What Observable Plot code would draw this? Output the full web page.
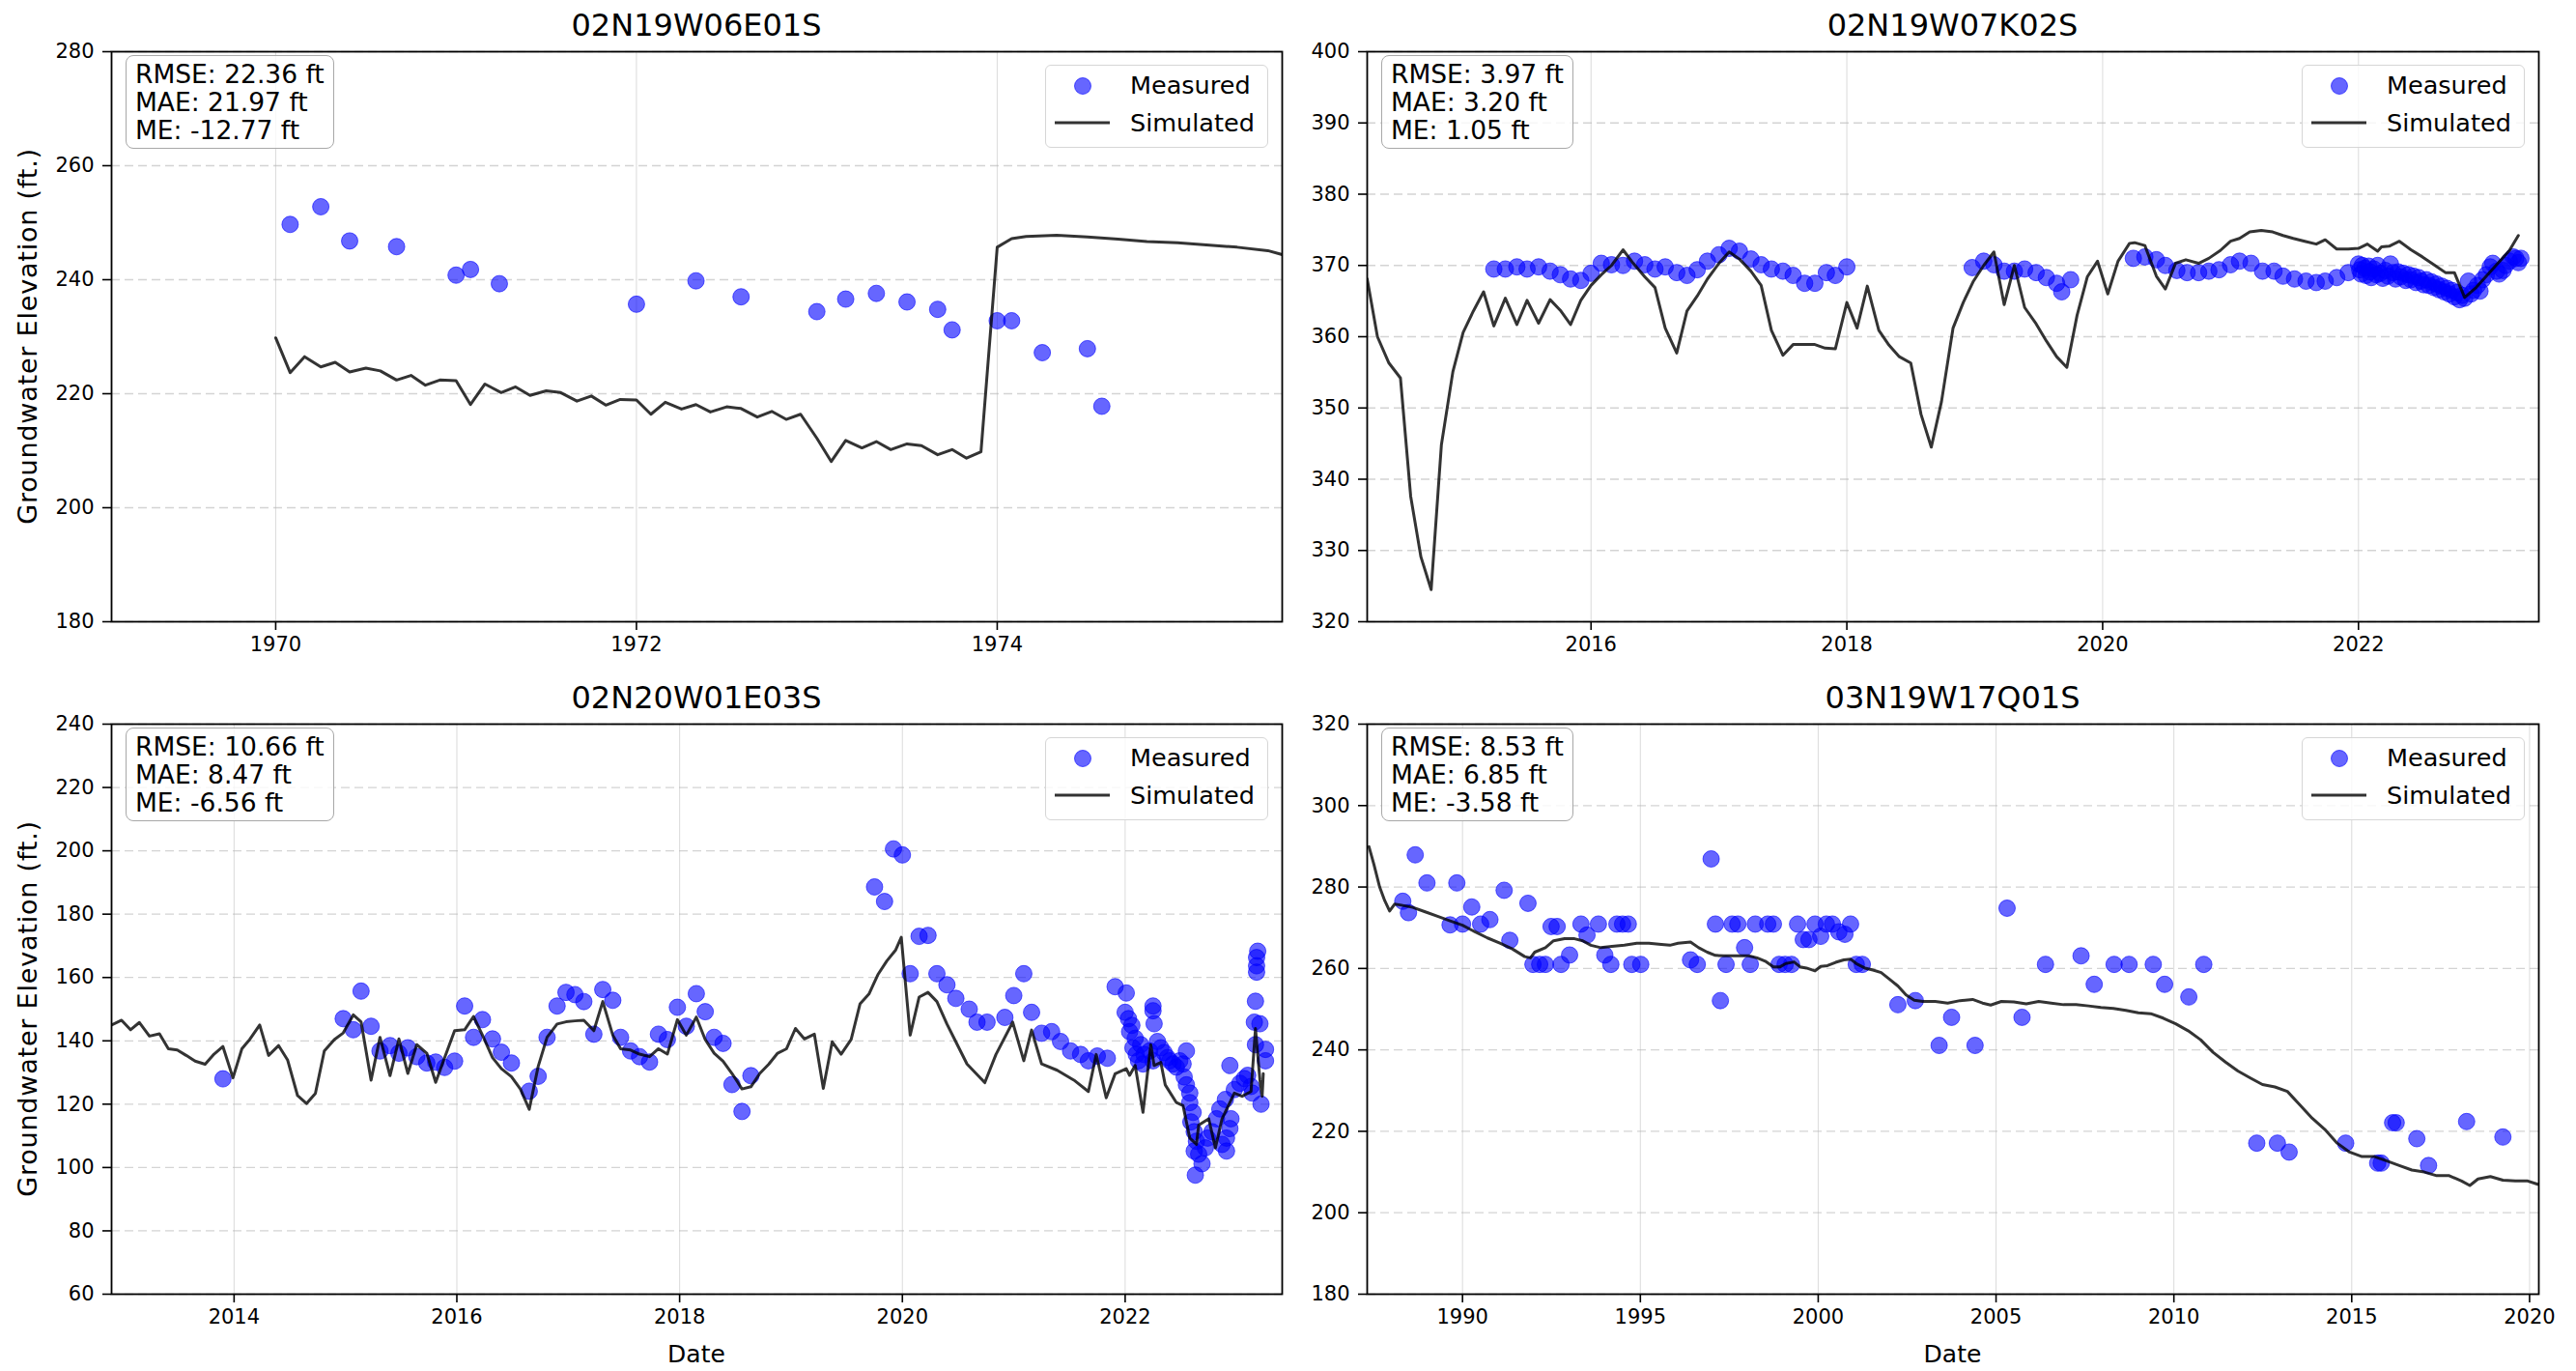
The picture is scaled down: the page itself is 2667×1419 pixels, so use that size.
<!DOCTYPE html>
<html><head><meta charset="utf-8">
<script src="https://cdn.jsdelivr.net/npm/d3@7"></script>
<script src="https://cdn.jsdelivr.net/npm/@observablehq/plot@0.6"></script>
<style>
html,body{margin:0;padding:0;background:#fff;}
#fig{position:relative;width:2667px;height:1419px;background:#fff;font-family:"DejaVu Sans",sans-serif;color:#000;overflow:hidden}
.title{position:absolute;font-size:32px;line-height:32px;white-space:nowrap;transform:translateX(-50%)}
.ylab{position:absolute;font-size:27px;line-height:27px;letter-spacing:0.8px;white-space:nowrap;transform:translate(-50%,-50%) rotate(-90deg)}
.xlab{position:absolute;font-size:25px;line-height:25px;white-space:nowrap;transform:translateX(-50%)}
.stats{position:absolute;font-size:26.5px;line-height:29px;padding:4px 9px;border:1.5px solid #a8a8a8;border-radius:8px;background:rgba(255,255,255,0.8);white-space:nowrap}
.legend{position:absolute;width:229px;height:84px;border:1px solid #d6d6d6;border-radius:6px;background:rgba(255,255,255,0.8)}
.legend .lt{position:absolute;left:87px;font-size:25.5px;line-height:25.5px;white-space:nowrap}
.legend svg{position:absolute;left:0;top:0}
</style></head><body><div id="fig"></div>
<script>
// ---------------- data ----------------
const panelTitles = ["02N19W06E01S", "02N19W07K02S", "02N20W01E03S", "03N19W17Q01S"];
const legendLabels = ["Measured", "Simulated"];
const yAxisLabel = "Groundwater Elevation (ft.)";
const xAxisLabel = "Date";

const p1Stats = ["RMSE: 22.36 ft", "MAE: 21.97 ft", "ME: -12.77 ft"];
const p2Stats = ["RMSE: 3.97 ft", "MAE: 3.20 ft", "ME: 1.05 ft"];
const p3Stats = ["RMSE: 10.66 ft", "MAE: 8.47 ft", "ME: -6.56 ft"];
const p4Stats = ["RMSE: 8.53 ft", "MAE: 6.85 ft", "ME: -3.58 ft"];

const p1XTicks = [1970, 1972, 1974];
const p1YTicks = [180, 200, 220, 240, 260, 280];
const p2XTicks = [2016, 2018, 2020, 2022];
const p2YTicks = [320, 330, 340, 350, 360, 370, 380, 390, 400];
const p3XTicks = [2014, 2016, 2018, 2020, 2022];
const p3YTicks = [60, 80, 100, 120, 140, 160, 180, 200, 220, 240];
const p4XTicks = [1990, 1995, 2000, 2005, 2010, 2015, 2020];
const p4YTicks = [180, 200, 220, 240, 260, 280, 300, 320];

// panel 1: [decimal year, elevation]
const p1Measured = [[1970.08,249.7],[1970.25,252.8],[1970.41,246.8],[1970.67,245.8],[1971.0,240.8],[1971.08,241.8],[1971.24,239.3],[1972.0,235.7],[1972.33,239.8],[1972.58,237.0],[1973.0,234.4],[1973.16,236.6],[1973.33,237.6],[1973.5,236.1],[1973.67,234.8],[1973.75,231.2],[1974.0,232.8],[1974.08,232.8],[1974.25,227.2],[1974.5,227.9],[1974.58,217.8]];
const p1Simulated = [[1970.0,229.8],[1970.08,223.7],[1970.16,226.5],[1970.25,224.7],[1970.33,225.5],[1970.41,223.8],[1970.5,224.5],[1970.58,224.0],[1970.67,222.4],[1970.75,223.2],[1970.83,221.5],[1970.91,222.4],[1971.0,222.3],[1971.08,218.1],[1971.16,221.7],[1971.25,220.2],[1971.33,221.2],[1971.41,219.7],[1971.5,220.5],[1971.58,220.2],[1971.67,218.7],[1971.75,219.6],[1971.83,218.0],[1971.91,219.0],[1972.0,218.9],[1972.08,216.4],[1972.16,218.5],[1972.25,217.3],[1972.33,218.1],[1972.41,216.8],[1972.5,217.7],[1972.58,217.4],[1972.67,215.9],[1972.75,216.9],[1972.83,215.5],[1972.91,216.4],[1973.0,212.2],[1973.08,208.1],[1973.16,211.8],[1973.25,210.5],[1973.33,211.6],[1973.41,210.2],[1973.5,211.2],[1973.58,210.9],[1973.67,209.3],[1973.75,210.2],[1973.83,208.7],[1973.91,209.8],[1974.0,245.7],[1974.08,247.2],[1974.16,247.6],[1974.33,247.8],[1974.5,247.5],[1974.67,247.1],[1974.83,246.7],[1975.0,246.5],[1975.16,246.1],[1975.33,245.7],[1975.5,245.1],[1975.58,244.4]];

// panel 2
const p2Measured = [[2015.24,369.5],[2015.33,369.5],[2015.42,369.8],[2015.50,369.5],[2015.59,369.8],[2015.68,369.2],[2015.76,368.7],[2015.84,368.1],[2015.92,367.9],[2016.0,368.9],[2016.08,370.3],[2016.16,370.1],[2016.25,370.0],[2016.34,370.6],[2016.42,370.1],[2016.50,369.5],[2016.58,369.8],[2016.67,369.0],[2016.75,368.6],[2016.83,369.4],[2016.91,370.6],[2017.0,371.5],[2017.08,372.4],[2017.16,372.0],[2017.25,370.9],[2017.33,370.1],[2017.41,369.5],[2017.50,369.2],[2017.58,368.6],[2017.67,367.5],[2017.75,367.5],[2017.84,369.0],[2017.91,368.6],[2018.0,369.8],
[2018.98,369.7],[2019.07,370.6],[2019.15,370.1],[2019.23,369.2],[2019.31,369.2],[2019.39,369.5],[2019.48,369.0],[2019.56,368.3],[2019.64,367.5],[2019.68,366.3],[2019.75,368.0],
[2020.24,371.0],[2020.33,371.2],[2020.42,370.8],[2020.49,370.0],[2020.58,369.3],[2020.66,369.0],[2020.75,369.0],[2020.83,369.2],[2020.91,369.4],[2021.0,370.1],[2021.07,370.6],[2021.16,370.3],[2021.25,369.2],[2021.34,369.2],[2021.41,368.5],[2021.50,368.1],[2021.59,367.8],[2021.67,367.6],[2021.74,367.8],[2021.83,368.3],[2021.92,369.0],
[2022.00,370.2],[2022.01,369.4],[2022.02,368.8],[2022.03,370.0],[2022.05,369.6],[2022.06,368.6],[2022.08,369.9],[2022.09,369.1],[2022.10,368.3],[2022.12,369.5],[2022.14,368.7],[2022.15,370.0],[2022.17,368.9],[2022.19,368.2],[2022.21,369.3],[2022.23,368.5],[2022.25,370.2],[2022.27,369.0],[2022.29,368.1],[2022.31,369.1],[2022.33,368.4],[2022.35,368.9],[2022.37,367.9],[2022.39,368.7],[2022.41,368.0],[2022.43,368.5],[2022.45,367.6],[2022.47,368.3],[2022.49,367.8],[2022.51,367.3],[2022.53,368.0],[2022.55,367.2],[2022.57,367.7],[2022.59,366.9],[2022.61,367.4],[2022.63,366.6],[2022.65,367.1],[2022.67,366.3],[2022.69,366.8],[2022.71,366.0],[2022.73,366.5],[2022.75,365.6],[2022.77,366.2],[2022.79,365.2],[2022.81,365.8],[2022.83,365.4],[2022.86,367.8],[2022.88,366.0],[2022.90,366.5],[2022.93,367.2],[2022.95,366.4],[2022.97,368.0],[2023.00,368.7],[2023.03,369.8],[2023.05,370.3],[2023.08,369.2],[2023.10,368.8],[2023.13,369.3],[2023.15,370.0],[2023.18,370.6],[2023.21,371.2],[2023.23,371.0],[2023.25,370.4],[2023.27,371.0]];
const p2Simulated = [[2014.25,368.1],[2014.33,360.0],[2014.42,356.3],[2014.51,354.2],[2014.59,337.6],[2014.67,329.1],[2014.75,324.5],[2014.83,344.8],[2014.92,355.1],[2015.0,360.6],[2015.08,363.6],[2015.16,366.3],[2015.24,361.5],[2015.33,365.4],[2015.42,361.7],[2015.50,365.1],[2015.59,361.9],[2015.68,365.2],[2015.76,363.7],[2015.84,361.7],[2015.92,365.1],[2016.0,367.2],[2016.08,368.7],[2016.16,370.0],[2016.25,372.2],[2016.33,370.3],[2016.42,368.4],[2016.50,366.9],[2016.58,361.2],[2016.67,357.7],[2016.75,363.6],[2016.83,365.7],[2016.91,368.1],[2017.0,370.3],[2017.08,371.9],[2017.16,370.9],[2017.25,369.2],[2017.33,367.2],[2017.41,360.9],[2017.50,357.4],[2017.58,358.9],[2017.66,358.9],[2017.75,358.9],[2017.83,358.4],[2017.91,358.3],[2018.0,364.8],[2018.08,361.2],[2018.16,367.1],[2018.25,360.9],[2018.33,358.8],[2018.41,357.2],[2018.50,356.3],[2018.58,349.1],[2018.66,344.5],[2018.74,350.9],[2018.83,361.2],[2018.91,364.8],[2018.99,367.8],[2019.07,370.0],[2019.15,371.9],[2019.23,364.5],[2019.31,370.0],[2019.39,364.1],[2019.48,361.8],[2019.56,359.4],[2019.64,357.2],[2019.72,355.7],[2019.80,363.0],[2019.88,368.4],[2019.96,370.6],[2020.04,366.0],[2020.12,370.6],[2020.21,373.1],[2020.25,373.2],[2020.33,372.8],[2020.42,368.5],[2020.49,366.7],[2020.57,370.3],[2020.65,370.8],[2020.75,370.3],[2020.83,371.0],[2020.92,372.1],[2021.0,373.4],[2021.07,373.8],[2021.15,374.7],[2021.24,374.9],[2021.33,374.7],[2021.41,374.2],[2021.49,373.8],[2021.58,373.4],[2021.67,373.0],[2021.74,373.6],[2021.83,372.3],[2021.92,372.3],[2022.0,372.4],[2022.07,373.0],[2022.15,372.0],[2022.18,372.6],[2022.24,372.7],[2022.32,373.4],[2022.41,372.2],[2022.50,371.2],[2022.59,370.1],[2022.68,369.0],[2022.75,369.0],[2022.83,365.5],[2022.92,366.9],[2023.0,368.5],[2023.09,370.3],[2023.18,372.1],[2023.25,374.2]];

// panel 3
const p3Measured = [[2013.90,128.0],[2014.98,147.0],[2015.07,143.5],[2015.14,155.7],[2015.23,144.6],[2015.31,136.8],[2015.40,138.5],[2015.48,136.1],[2015.56,137.8],[2015.64,135.0],[2015.73,133.0],[2015.81,133.3],[2015.89,131.6],[2015.98,133.6],[2016.07,151.0],[2016.15,141.1],[2016.23,146.7],[2016.32,140.6],[2016.40,136.4],[2016.49,133.0],[2016.65,124.1],[2016.73,128.8],[2016.81,141.1],[2016.90,151.0],[2016.98,155.3],[2017.06,154.6],[2017.14,152.4],[2017.23,142.1],[2017.31,156.2],[2017.40,152.8],[2017.47,141.1],[2017.56,136.8],[2017.64,135.0],[2017.73,133.3],[2017.81,142.1],[2017.89,140.4],[2017.98,150.6],[2018.06,144.6],[2018.15,154.9],[2018.23,149.2],[2018.31,141.1],[2018.39,139.2],[2018.47,126.2],[2018.56,117.7],[2018.64,129.0],[2019.75,188.6],[2019.84,184.0],[2019.92,200.6],[2020.0,198.7],[2020.07,161.2],[2020.15,173.0],[2020.23,173.3],[2020.31,161.2],[2020.40,157.7],[2020.48,153.4],[2020.60,150.0],[2020.67,145.9],[2020.76,145.9],[2020.92,147.4],[2021.0,154.3],[2021.09,161.2],[2021.16,149.0],[2021.25,142.4],[2021.34,142.9],[2021.42,139.8],[2021.51,136.8],[2021.60,135.7],[2021.67,133.7],[2021.75,135.2],[2021.84,134.5],[2021.91,157.1],[2022.01,155.1],
[2022.00,149.0],[2022.03,147.0],[2022.06,144.9],[2022.04,142.9],[2022.09,140.8],[2022.07,137.8],[2022.10,135.7],[2022.12,133.7],[2022.14,138.8],[2022.17,135.7],[2022.16,132.7],[2022.25,151.0],[2022.25,149.5],[2022.26,145.4],[2022.22,136.8],[2022.25,133.7],[2022.29,139.8],[2022.32,137.8],[2022.35,136.3],[2022.38,134.7],[2022.40,133.7],[2022.43,132.7],[2022.46,131.7],[2022.49,133.7],[2022.52,132.7],[2022.55,136.8],[2022.53,128.6],[2022.55,126.1],[2022.58,123.5],[2022.58,120.5],[2022.61,117.4],[2022.59,114.4],[2022.62,111.3],[2022.64,108.3],[2022.62,105.2],[2022.66,104.2],[2022.63,97.6],[2022.69,101.2],[2022.72,106.2],[2022.74,109.3],[2022.78,111.3],[2022.82,115.4],[2022.85,118.5],[2022.90,121.5],[2022.87,107.3],[2022.91,109.3],[2022.91,105.2],[2022.94,112.3],[2022.95,115.4],[2022.94,132.2],[2022.98,124.6],[2023.03,126.6],[2023.07,128.1],[2023.10,129.1],[2023.13,125.6],[2023.14,123.5],[2023.17,138.8],[2023.16,145.9],[2023.17,152.5],[2023.18,161.7],[2023.18,163.7],[2023.18,166.3],[2023.19,168.3],[2023.21,145.4],[2023.26,137.3],[2023.26,133.7],[2023.22,120.0]];
const p3Simulated = [[2012.90,145.0],[2012.99,146.5],[2013.07,143.5],[2013.15,145.8],[2013.24,141.5],[2013.33,142.2],[2013.41,137.5],[2013.49,137.1],[2013.57,135.4],[2013.65,133.6],[2013.74,132.6],[2013.82,135.8],[2013.90,138.2],[2013.99,128.3],[2014.07,137.5],[2014.14,140.4],[2014.23,145.0],[2014.31,135.4],[2014.40,138.5],[2014.48,134.0],[2014.57,122.7],[2014.65,120.2],[2014.73,123.4],[2014.81,136.8],[2014.90,140.4],[2014.98,142.5],[2015.07,148.2],[2015.14,146.0],[2015.23,127.6],[2015.31,141.1],[2015.40,129.0],[2015.48,140.6],[2015.56,129.7],[2015.64,138.8],[2015.73,136.1],[2015.81,126.9],[2015.89,134.7],[2015.98,143.2],[2016.07,143.5],[2016.15,147.7],[2016.23,141.8],[2016.32,134.7],[2016.40,131.2],[2016.49,128.7],[2016.57,124.8],[2016.65,118.4],[2016.73,131.9],[2016.81,141.1],[2016.90,145.3],[2016.98,146.0],[2017.06,146.3],[2017.14,146.5],[2017.23,143.2],[2017.31,152.4],[2017.40,141.8],[2017.47,137.5],[2017.56,137.1],[2017.64,135.8],[2017.73,135.0],[2017.81,137.5],[2017.89,135.8],[2017.98,146.7],[2018.06,141.8],[2018.15,147.5],[2018.23,140.4],[2018.31,136.1],[2018.39,133.6],[2018.47,129.7],[2018.56,124.8],[2018.64,125.5],[2018.72,129.7],[2018.80,132.6],[2018.88,136.1],[2018.96,137.5],[2019.04,143.9],[2019.12,140.6],[2019.21,142.1],[2019.29,125.0],[2019.37,139.7],[2019.45,135.8],[2019.54,140.4],[2019.62,151.7],[2019.70,154.8],[2019.78,160.9],[2019.86,165.2],[2019.94,168.7],[2019.99,172.7],[2020.07,141.8],[2020.15,153.8],[2020.23,155.3],[2020.31,152.4],[2020.40,145.3],[2020.48,139.7],[2020.58,132.7],[2020.74,126.8],[2020.84,135.7],[2020.99,145.9],[2021.09,133.7],[2021.16,143.4],[2021.25,132.7],[2021.39,130.7],[2021.54,127.6],[2021.67,124.0],[2021.74,135.7],[2021.83,122.0],[2021.91,129.6],[2022.01,131.2],[2022.04,129.1],[2022.09,132.2],[2022.16,117.4],[2022.23,138.8],[2022.26,132.2],[2022.32,133.2],[2022.36,126.1],[2022.46,120.5],[2022.52,119.5],[2022.58,109.3],[2022.64,107.3],[2022.66,113.4],[2022.75,115.4],[2022.81,106.2],[2022.87,115.4],[2022.94,120.5],[2022.98,123.5],[2023.05,122.5],[2023.13,124.0],[2023.17,143.9],[2023.21,127.6],[2023.23,122.5],[2023.24,129.6]];

// panel 4
const p4Measured = [[1988.32,276.5],[1988.48,273.7],[1988.67,287.9],[1989.0,281.0],[1989.65,270.7],[1989.84,281.0],[1990.0,270.9],[1990.26,275.1],[1990.51,270.9],[1990.77,272.0],[1991.17,279.2],[1991.33,266.9],[1991.84,276.0],[1991.98,261.0],[1992.17,261.0],[1992.33,261.0],[1992.49,270.3],[1992.66,270.3],[1992.77,261.0],[1993.01,263.3],[1993.33,270.9],[1993.50,268.2],[1993.82,270.9],[1994.0,263.3],[1994.17,261.0],[1994.34,270.9],[1994.50,270.9],[1994.66,270.9],[1994.76,261.0],[1995.01,261.0],[1996.41,262.1],[1996.60,261.0],[1996.99,286.9],[1997.11,270.9],[1997.25,252.1],[1997.41,261.0],[1997.58,270.9],[1997.74,270.9],[1997.93,265.1],[1998.09,261.0],[1998.23,270.9],[1998.58,270.9],[1998.74,270.9],[1998.90,261.0],[1999.07,261.0],[1999.25,261.0],[1999.42,270.9],[1999.58,267.1],[1999.74,267.1],[1999.91,270.9],[2000.07,267.9],[2000.23,270.9],[2000.40,270.9],[2000.58,269.0],[2000.75,268.4],[2000.91,270.9],[2001.07,261.0],[2001.24,261.0],[2002.24,251.1],[2002.73,252.1],[2003.40,241.1],[2003.75,248.0],[2004.41,241.1],[2005.31,274.8],[2005.73,248.0],[2006.39,261.0],[2007.39,263.1],[2007.76,256.1],[2008.32,261.0],[2008.74,261.0],[2009.42,261.0],[2009.74,256.1],[2010.42,253.0],[2010.84,261.0],[2012.33,217.1],[2012.91,217.1],[2013.24,214.9],[2014.83,217.1],[2015.73,212.2],[2015.83,212.2],[2016.15,222.1],[2016.25,222.1],[2016.83,218.2],[2017.16,211.6],[2018.23,222.4],[2019.25,218.6]];
const p4Simulated = [[1987.37,289.9],[1987.51,285.5],[1987.67,280.0],[1987.81,276.7],[1987.95,274.1],[1988.09,275.8],[1988.25,275.6],[1988.60,275.0],[1988.95,273.9],[1989.30,272.8],[1989.65,271.7],[1990.0,270.6],[1990.35,269.0],[1990.70,267.5],[1991.05,266.2],[1991.40,264.8],[1991.75,262.9],[1991.91,262.6],[1992.03,264.0],[1992.33,265.1],[1992.56,266.8],[1992.87,267.3],[1993.15,267.3],[1993.38,266.8],[1993.61,265.7],[1993.89,265.1],[1994.20,265.4],[1994.55,265.7],[1994.90,266.2],[1995.24,266.2],[1995.59,265.9],[1995.83,265.7],[1996.06,266.2],[1996.41,266.5],[1996.64,265.1],[1996.88,264.0],[1997.11,263.2],[1997.34,263.1],[1997.69,263.1],[1998.04,263.1],[1998.28,262.6],[1998.51,261.8],[1998.74,260.4],[1998.93,260.4],[1999.09,261.2],[1999.32,261.6],[1999.49,260.4],[1999.67,260.1],[1999.91,259.4],[2000.07,260.5],[2000.26,260.7],[2000.49,261.5],[2000.72,262.1],[2000.91,262.3],[2001.07,261.2],[2001.31,260.1],[2001.54,259.6],[2001.77,259.0],[2002.0,257.4],[2002.24,255.7],[2002.47,253.5],[2002.70,252.2],[2002.94,251.9],[2003.29,251.9],[2003.64,251.5],[2003.99,252.1],[2004.34,252.4],[2004.62,251.5],[2004.85,251.0],[2005.15,251.9],[2005.50,251.8],[2005.85,251.3],[2006.20,251.9],[2006.55,251.5],[2006.90,251.1],[2007.25,251.1],[2007.60,250.8],[2007.95,250.4],[2008.30,250.2],[2008.65,249.7],[2009.0,249.1],[2009.35,248.9],[2009.70,247.8],[2010.05,246.4],[2010.40,244.7],[2010.75,242.5],[2011.10,239.4],[2011.45,237.0],[2011.80,234.8],[2012.15,233.1],[2012.49,231.5],[2012.84,230.9],[2013.19,229.8],[2013.54,226.5],[2013.89,223.2],[2014.24,220.5],[2014.59,217.1],[2014.94,214.9],[2015.29,213.8],[2015.64,213.8],[2015.99,212.7],[2016.34,211.6],[2016.69,210.5],[2017.04,210.0],[2017.39,209.1],[2017.74,209.1],[2018.09,207.8],[2018.32,206.7],[2018.55,208.3],[2018.90,208.9],[2019.25,208.0],[2019.60,207.8],[2019.95,207.8],[2020.23,207.0]];

// ---------------- layout ----------------
const panels = [
  {title: panelTitles[0], stats: p1Stats, meas: p1Measured, sim: p1Simulated, xDomain: [1969.09, 1975.58], yDomain: [180, 280], xTicks: p1XTicks, yTicks: p1YTicks,
   sx: 0, sy: 0, w: 1333, h: 700, fx0: 115, fx1: 1327, fy0: 53, fy1: 643, ylab: true, xlab: false, titleBase: 37},
  {title: panelTitles[1], stats: p2Stats, meas: p2Measured, sim: p2Simulated, xDomain: [2014.25, 2023.41], yDomain: [320, 400], xTicks: p2XTicks, yTicks: p2YTicks,
   sx: 1333, sy: 0, w: 1334, h: 700, fx0: 1415, fx1: 2628, fy0: 53, fy1: 643, ylab: false, xlab: false, titleBase: 37},
  {title: panelTitles[2], stats: p3Stats, meas: p3Measured, sim: p3Simulated, xDomain: [2012.90, 2023.41], yDomain: [60, 240], xTicks: p3XTicks, yTicks: p3YTicks,
   sx: 0, sy: 700, w: 1333, h: 719, fx0: 115, fx1: 1327, fy0: 749, fy1: 1339, ylab: true, xlab: true, titleBase: 733},
  {title: panelTitles[3], stats: p4Stats, meas: p4Measured, sim: p4Simulated, xDomain: [1987.32, 2020.26], yDomain: [180, 320], xTicks: p4XTicks, yTicks: p4YTicks,
   sx: 1333, sy: 700, w: 1334, h: 719, fx0: 1415, fx1: 2628, fy0: 749, fy1: 1339, ylab: false, xlab: true, titleBase: 733}
];

const fig = document.getElementById("fig");
const fmtYear = d3.format("d");

function addDiv(cls, text, styles) {
  const d = document.createElement("div");
  d.className = cls;
  if (text != null) d.textContent = text;
  Object.assign(d.style, styles);
  fig.appendChild(d);
  return d;
}

for (const p of panels) {
  const svg = Plot.plot({
    width: p.w, height: p.h,
    marginLeft: p.fx0 - p.sx, marginRight: p.sx + p.w - p.fx1,
    marginTop: p.fy0 - p.sy, marginBottom: p.sy + p.h - p.fy1,
    x: {type: "linear", domain: p.xDomain},
    y: {type: "linear", domain: p.yDomain},
    style: {fontFamily: "DejaVu Sans", fontSize: "21px", background: "transparent", color: "#000", overflow: "visible"},
    marks: [
      Plot.gridX({ticks: p.xTicks, stroke: "#b8b8b8", strokeOpacity: 0.5, strokeWidth: 1}),
      Plot.gridY({ticks: p.yTicks, stroke: "#b8b8b8", strokeOpacity: 0.6, strokeWidth: 1.3, strokeDasharray: "9,5"}),
      Plot.dot(p.meas, {x: d => d[0], y: d => d[1], r: 8.5, fill: "blue", fillOpacity: 0.6, stroke: "blue", strokeOpacity: 0.6, strokeWidth: 1, clip: true}),
      Plot.line(p.sim, {x: d => d[0], y: d => d[1], stroke: "black", strokeOpacity: 0.8, strokeWidth: 3, clip: true}),
      Plot.frame({stroke: "black", strokeWidth: 1.8}),
      Plot.axisX({ticks: p.xTicks, tickFormat: fmtYear, tickSize: 9, tickPadding: 7, fontSize: 21, strokeWidth: 1.6, label: null}),
      Plot.axisY({ticks: p.yTicks, tickFormat: fmtYear, tickSize: 9, tickPadding: 9, fontSize: 21, strokeWidth: 1.6, label: null})
    ]
  });
  svg.style.position = "absolute";
  svg.style.left = p.sx + "px";
  svg.style.top = p.sy + "px";
  fig.appendChild(svg);

  const cx = (p.fx0 + p.fx1) / 2;
  addDiv("title", p.title, {left: cx + "px", top: (p.titleBase - 0.846 * 32) + "px"});

  if (p.ylab) addDiv("ylab", yAxisLabel, {left: "28px", top: ((p.fy0 + p.fy1) / 2) + "px"});
  if (p.xlab) addDiv("xlab", xAxisLabel, {left: cx + "px", top: (1410 - 0.846 * 25) + "px"});

  const st = addDiv("stats", null, {left: (p.fx0 + 15) + "px", top: (p.fy0 + 4) + "px"});
  st.innerHTML = p.stats.map(s => `<div>${s}</div>`).join("");

  const lg = addDiv("legend", null, {left: (p.fx1 - 14 - 231) + "px", top: (p.fy0 + 14) + "px"});
  lg.innerHTML = `<svg width="231" height="86"><circle cx="38" cy="21" r="8.5" fill="blue" fill-opacity="0.6" stroke="blue" stroke-opacity="0.6" stroke-width="1"/><line x1="9" x2="66" y1="59" y2="59" stroke="black" stroke-opacity="0.8" stroke-width="3"/></svg>`;
  const t1 = document.createElement("div"); t1.className = "lt"; t1.textContent = legendLabels[0]; t1.style.top = (30 - 0.846 * 25.5) + "px";
  const t2 = document.createElement("div"); t2.className = "lt"; t2.textContent = legendLabels[1]; t2.style.top = (69 - 0.846 * 25.5) + "px";
  lg.appendChild(t1); lg.appendChild(t2);
}
</script></body></html>
